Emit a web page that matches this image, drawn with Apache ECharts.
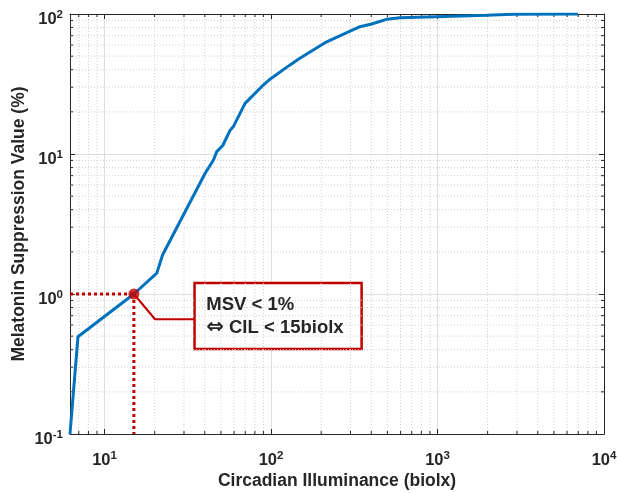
<!DOCTYPE html>
<html>
<head>
<meta charset="utf-8">
<script src="https://cdn.jsdelivr.net/npm/echarts@6/dist/echarts.min.js"></script>
<style>
html,body{margin:0;padding:0;background:#fff;}
#chart{width:618px;height:493px;}
</style>
</head>
<body>
<div id="chart"></div>
<script>
// ---- data ----
const illuminance = [6.2, 6.92, 15, 20.6, 22.3, 40.2, 45.1, 47.2, 51.3, 56.8, 59.4, 69.8, 89.9, 98.6, 130, 149, 211, 342, 402, 494, 594, 986, 1968, 2844, 6966];
const msv = [0.1, 0.495, 1.0, 1.41, 1.9, 7.28, 9.06, 10.4, 11.5, 14.8, 15.7, 23.0, 31.1, 34.2, 43.3, 48.3, 62.4, 81.2, 84.8, 91.6, 94.1, 95.7, 97.9, 99.5, 100];
const thresholdPoint = [15, 1];
const connectorX = [15, 20.1, 34.7];
const connectorY = [1, 0.66, 0.66];
const boxCorners = [[34.7, 1.2], [350, 0.405]];
const annotationLine1 = 'MSV < 1%';
const annotationArrow = '\u21D4';
const annotationLine2 = 'CIL < 15biolx';
const xTitle = 'Circadian Illuminance (biolx)';
const yTitle = 'Melatonin Suppression Value (%)';
const xMin = 6.2, xMax = 10000, yMin = 0.1, yMax = 100;
const xMinor = [7, 8, 9, 20, 30, 40, 50, 60, 70, 80, 90, 200, 300, 400, 500, 600, 700, 800, 900, 2000, 3000, 4000, 5000, 6000, 7000, 8000, 9000];
const yMinor = [0.2, 0.3, 0.4, 0.5, 0.6, 0.7, 0.8, 0.9, 2, 3, 4, 5, 6, 7, 8, 9, 20, 30, 40, 50, 60, 70, 80, 90];

const TXT = '#262626';
const BLUE = '#0072BD';
const RED = '#C00000';
const FONT = '"Liberation Sans", Arial, sans-serif';

function powLabel(v) {
  const e = Math.log10(v);
  const r = Math.round(e);
  if (Math.abs(e - r) > 1e-6) return '';
  return '{b|10}{s|' + r + '}';
}
const labelRich = {
  b: {fontSize: 16.5, fontWeight: 'bold', color: TXT, fontFamily: FONT},
  s: {fontSize: 11.5, fontWeight: 'bold', color: TXT, fontFamily: FONT, padding: [0, 0, 9, 0]}
};

function baseAxis(min, max) {
  return {
    type: 'log', logBase: 10, min: min, max: max,
    axisLine: {show: true, lineStyle: {color: TXT, width: 1}},
    axisTick: {show: true, inside: true, length: 5, lineStyle: {color: TXT}},
    splitLine: {show: false},
    axisLabel: {show: false}
  };
}

const chart = echarts.init(document.getElementById('chart'), null, {renderer: 'canvas'});

const xMain = Object.assign(baseAxis(xMin, xMax), {
  position: 'bottom',
  splitLine: {show: true, lineStyle: {color: '#dedede', width: 1}},
  axisLabel: {show: true, formatter: powLabel, rich: labelRich, margin: 16, showMinLabel: true, showMaxLabel: true},
  name: xTitle, nameLocation: 'middle', nameGap: 38, nameMoveOverlap: false,
  nameTextStyle: {fontSize: 17.5, fontWeight: 'bold', color: TXT, fontFamily: FONT}
});
const xTop = Object.assign(baseAxis(xMin, xMax), {position: 'top'});
const yMain = Object.assign(baseAxis(yMin, yMax), {
  position: 'left',
  splitLine: {show: true, lineStyle: {color: '#dedede', width: 1}},
  axisLabel: {show: true, formatter: powLabel, rich: labelRich, margin: 7, padding: [10, 0, 0, 0], showMinLabel: true, showMaxLabel: true},
  name: yTitle, nameLocation: 'middle', nameGap: 42, nameMoveOverlap: false,
  nameTextStyle: {fontSize: 17.5, fontWeight: 'bold', color: TXT, fontFamily: FONT}
});
const yRight = Object.assign(baseAxis(yMin, yMax), {position: 'right'});

const minorStyle = {stroke: '#cfcfcf', lineWidth: 1, lineDash: [1, 2]};
const tickStyle = {stroke: TXT, lineWidth: 1};

function renderXMinor(params, api) {
  const v = api.value(0);
  const b = api.coord([v, yMin]);
  const t = api.coord([v, yMax]);
  return {type: 'group', children: [
    {type: 'line', shape: {x1: b[0], y1: b[1], x2: t[0], y2: t[1]}, style: minorStyle, silent: true},
    {type: 'line', shape: {x1: b[0], y1: b[1], x2: b[0], y2: b[1] - 3}, style: tickStyle, silent: true},
    {type: 'line', shape: {x1: t[0], y1: t[1], x2: t[0], y2: t[1] + 3}, style: tickStyle, silent: true}
  ]};
}
function renderYMinor(params, api) {
  const v = api.value(1);
  const l = api.coord([xMin, v]);
  const r = api.coord([xMax, v]);
  return {type: 'group', children: [
    {type: 'line', shape: {x1: l[0], y1: l[1], x2: r[0], y2: r[1]}, style: minorStyle, silent: true},
    {type: 'line', shape: {x1: l[0], y1: l[1], x2: l[0] + 3, y2: l[1]}, style: tickStyle, silent: true},
    {type: 'line', shape: {x1: r[0], y1: r[1], x2: r[0] - 3, y2: r[1]}, style: tickStyle, silent: true}
  ]};
}

const curve = illuminance.map((x, i) => [x, msv[i]]);
const connector = connectorX.map((x, i) => [x, connectorY[i]]);

chart.setOption({
  animation: false,
  backgroundColor: '#fff',
  grid: {left: 70, right: 14, top: 14, bottom: 59, containLabel: false, outerBoundsMode: 'none'},
  xAxis: [xMain, xTop],
  yAxis: [yMain, yRight],
  series: [
    {type: 'custom', z: 1, xAxisIndex: 0, yAxisIndex: 0, data: xMinor.map(v => [v, yMin]), renderItem: renderXMinor, silent: true},
    {type: 'custom', z: 1, xAxisIndex: 0, yAxisIndex: 0, data: yMinor.map(v => [xMin, v]), renderItem: renderYMinor, silent: true},
    {
      type: 'line', z: 4, data: [[xMin, thresholdPoint[1]], thresholdPoint], symbol: 'none',
      lineStyle: {color: RED, width: 3, type: [3, 3]}
    },
    {
      type: 'line', z: 4, data: [thresholdPoint, [thresholdPoint[0], yMin]], symbol: 'none',
      lineStyle: {color: RED, width: 3, type: [3, 3]}
    },
    {
      type: 'line', z: 5, data: connector, symbol: 'none',
      lineStyle: {color: RED, width: 2},
      markArea: {
        silent: true,
        itemStyle: {color: '#ffffff', borderColor: RED, borderWidth: 2.5},
        label: {
          show: true, position: 'insideLeft', distance: 13,
          formatter: '{t|' + annotationLine1 + '}\n{a|' + annotationArrow + '}{t| ' + annotationLine2 + '}',
          rich: {
            t: {fontSize: 18.5, fontWeight: 'bold', color: TXT, fontFamily: FONT, lineHeight: 23},
            a: {fontSize: 21, fontWeight: 'bold', color: TXT, fontFamily: '"DejaVu Sans"', lineHeight: 23}
          },
          padding: [0, 0, 0, 0]
        },
        data: [[{coord: boxCorners[0]}, {coord: boxCorners[1]}]]
      }
    },
    {
      type: 'line', z: 6, data: curve, symbol: 'none', smooth: false,
      lineStyle: {color: BLUE, width: 3}
    },
    {
      type: 'scatter', z: 7, data: [thresholdPoint], symbol: 'circle', symbolSize: 11,
      itemStyle: {color: RED}
    }
  ]
});
</script>
</body>
</html>
